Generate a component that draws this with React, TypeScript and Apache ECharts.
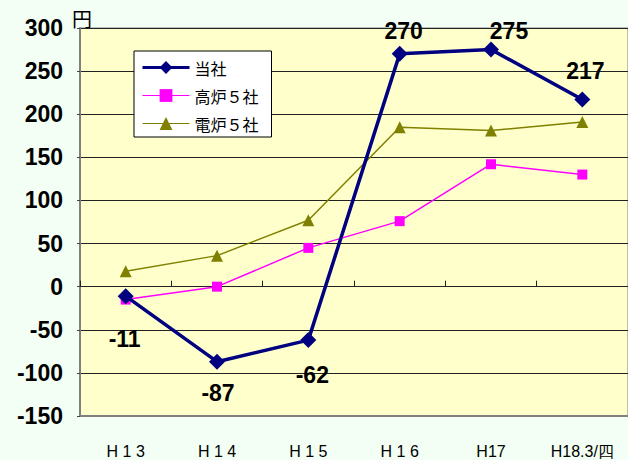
import React, { useEffect, useRef } from "react";
import * as echarts from "echarts";

const categories = ["H 1 3", "H 1 4", "H 1 5", "H 1 6", "H17", "H18.3/四"];
const seriesNames = ["当社", "高炉５社", "電炉５社"];
const ourCompany = [-11, -87, -62, 270, 275, 217];
const blastFurnace5 = [-15, 0, 45, 76, 142, 130];
const electricFurnace5 = [18, 36, 77, 185, 181, 191];
const yTicks = { min: -150, max: 300, interval: 50 };

export default function App() {
  const ref = useRef<HTMLDivElement>(null);
  useEffect(() => {
    document.body.style.margin = "0";
    const chart = echarts.init(ref.current!, null, { renderer: "svg" });
    const labelOffsets: Array<{ pos: string; off: [number, number] }> = [
      { pos: "bottom", off: [-1, 18] },
      { pos: "bottom", off: [1, 7] },
      { pos: "bottom", off: [4, 10] },
      { pos: "top", off: [4, 2] },
      { pos: "top", off: [18, 6] },
      { pos: "top", off: [3, -4] },
    ];
    const numFont = '"Liberation Sans", Arial, sans-serif';
    const cjkFont = '"Noto Sans CJK JP", "Liberation Sans", sans-serif';
    chart.setOption({
      animation: false,
      backgroundColor: "#F3FFF5",
      grid: {
        left: 80,
        top: 28,
        width: 551,
        height: 388,
        show: true,
        backgroundColor: "#FFFFCC",
        borderColor: "#808080",
        borderWidth: 1,
      },
      legend: {
        orient: "vertical",
        left: 134,
        top: 51,
        backgroundColor: "#FFFFFF",
        borderColor: "#000000",
        borderWidth: 1,
        padding: [8, 13, 5, 7],
        itemWidth: 47,
        itemHeight: 16,
        itemGap: 11,
        textStyle: { fontSize: 16, lineHeight: 17, color: "#000", fontFamily: cjkFont },
        data: [
          { name: seriesNames[0], lineStyle: { width: 3 } },
          { name: seriesNames[1], lineStyle: { width: 1 } },
          { name: seriesNames[2], lineStyle: { width: 1 } },
        ],
      },
      graphic: [
        {
          type: "text",
          x: 82,
          y: 18,
          style: {
            text: "円",
            fontSize: 20,
            fontFamily: cjkFont,
            fill: "#000",
            align: "center",
            verticalAlign: "middle",
          },
        },
      ],
      xAxis: [
        {
          type: "category",
          data: categories,
          position: "bottom",
          axisLine: { onZero: false, show: true, lineStyle: { color: "#808080", width: 2 } },
          axisTick: { show: false },
          axisLabel: { fontSize: 16, color: "#000", margin: 27, fontFamily: numFont },
        },
        {
          type: "category",
          data: categories,
          position: "bottom",
          axisLine: { onZero: true, show: true, lineStyle: { color: "#222", width: 1 } },
          axisTick: { show: true, inside: true, length: 6, lineStyle: { color: "#222" } },
          axisLabel: { show: false },
        },
      ],
      yAxis: {
        type: "value",
        min: yTicks.min,
        max: yTicks.max,
        interval: yTicks.interval,
        axisLine: { show: true, lineStyle: { color: "#808080", width: 2 } },
        axisTick: { show: true, length: 3, lineStyle: { color: "#444" } },
        axisLabel: {
          fontSize: 23,
          fontWeight: "bold",
          color: "#000",
          margin: 17,
          fontFamily: numFont,
        },
        splitLine: { show: true, lineStyle: { color: "#222", width: 1 } },
      },
      series: [
        {
          name: seriesNames[1],
          type: "line",
          data: blastFurnace5,
          symbol: "rect",
          symbolSize: 10,
          itemStyle: { color: "#FF00FF" },
          lineStyle: { color: "#FF00FF", width: 1.5 },
        },
        {
          name: seriesNames[2],
          type: "line",
          data: electricFurnace5,
          symbol: "triangle",
          symbolSize: 12,
          itemStyle: { color: "#808000" },
          lineStyle: { color: "#808000", width: 1.5 },
        },
        {
          name: seriesNames[0],
          type: "line",
          z: 5,
          data: ourCompany.map((v, i) => ({
            value: v,
            label: {
              show: true,
              position: labelOffsets[i].pos,
              offset: labelOffsets[i].off,
            },
          })),
          symbol: "diamond",
          symbolSize: 16,
          itemStyle: { color: "#000080" },
          lineStyle: { color: "#000080", width: 3.5 },
          label: {
            fontSize: 23,
            fontWeight: "bold",
            color: "#000",
            fontFamily: numFont,
          },
        },
      ],
    });
    return () => chart.dispose();
  }, []);
  return <div ref={ref} style={{ width: 628, height: 460 }} />;
}
